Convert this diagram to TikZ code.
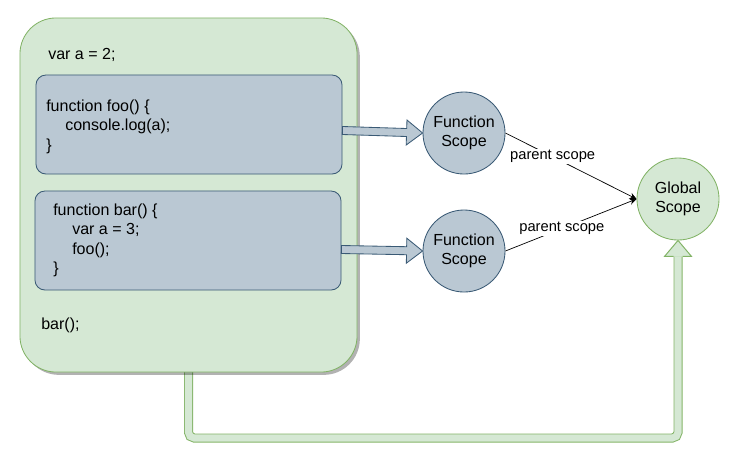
\documentclass[tikz,border=0pt]{standalone}
\usepackage{fontspec}
\setmainfont{Liberation Sans}
\usetikzlibrary{arrows.meta,calc,shadows}

\definecolor{gfill}{HTML}{D5E8D4}
\definecolor{gline}{HTML}{82B366}
\definecolor{bfill}{HTML}{BAC8D3}
\definecolor{bline}{HTML}{3A5A75}

% block arrow from #2 to #3
\newcommand{\fatarrow}[3]{%
  \coordinate (hb) at ($(#3)!0.4cm!(#2)$);
  \filldraw[#1] ($(#2)!0.1cm!90:(#3)$) -- ($(hb)!0.1cm!90:(#3)$)
    -- ($(hb)!0.3125cm!90:(#3)$) -- (#3) -- ($(hb)!0.3125cm!-90:(#3)$)
    -- ($(hb)!0.1cm!-90:(#3)$) -- ($(#2)!0.1cm!-90:(#3)$) -- cycle;
}

\begin{document}
\begin{tikzpicture}[x=0.025cm,y=-0.025cm,
    codetxt/.style={font=\fontsize{11.4}{13.9}\selectfont, align=left, inner sep=0, anchor=west},
    codebox/.style={draw=bline, fill=bfill, line width=0.6pt, rounded corners=0.25cm,
      minimum width=7.65cm, minimum height=2.475cm, inner sep=0},
    scope/.style={circle, line width=0.6pt, minimum size=2.05cm, inner sep=0, align=center,
      font=\fontsize{11.4}{13.9}\selectfont},
    lbl/.style={fill=white, inner sep=1pt, font=\fontsize{10.45}{12.5}\selectfont}]
  \useasboundingbox (0,0) rectangle (741,463);

  \node[scope, draw=gline, fill=gfill] (gs) at (678,199) {Global\\Scope};
  \coordinate (gh) at ($(gs.south)+(0,16)$);
  \draw[gline, line width=0.7pt, double=gfill, double distance=5pt, rounded corners=4pt]
    (188.5,370) -- (188.5,438) -| (gh);
  \filldraw[fill=gfill, draw=gline, line width=0.7pt] ($(gh)+(-4.5,0)$) -- ($(gh)+(-13.5,0)$)
    -- (gs.south) -- ($(gh)+(13.5,0)$) -- ($(gh)+(4.5,0)$);

  \node[draw=gline, fill=gfill, line width=0.6pt, rounded corners=0.9cm, minimum width=8.425cm,
    minimum height=8.85cm, inner sep=0,
    drop shadow={shadow xshift=0.07cm, shadow yshift=-0.07cm, opacity=0.3, fill=black}]
    (outer) at (188.5,195) {};

  \node[codebox] (foo) at (189,124.5) {};
  \node[codebox] (bar) at (188,240.5) {};

  \node[codetxt] (varA) at (48,55) {var a = 2;};
  \node[codetxt] (fooCode) at (46,126.5) {function foo() \{\\\hspace{0.475cm}console.log(a);\\\}};
  \node[codetxt] (barCode) at (53,240.5) {function bar() \{\\\hspace{0.475cm}var a = 3;\\\hspace{0.475cm}foo();\\\}};
  \node[codetxt] (barCall) at (41,325) {bar();};

  \node[scope, draw=bline, fill=bfill] (fs1) at (464,133) {Function\\Scope};
  \node[scope, draw=bline, fill=bfill] (fs2) at (464,251) {Function\\Scope};

  \coordinate (fooOut) at ($(foo.east)+(0,6)$);
  \coordinate (barOut) at ($(bar.east)+(0,9)$);
  \fatarrow{fill=bfill, draw=bline, line width=0.6pt}{fooOut}{fs1.west}
  \fatarrow{fill=bfill, draw=bline, line width=0.6pt}{barOut}{fs2.west}

  \draw[-{Stealth[length=5pt,width=4.5pt]}, line width=0.5pt] (fs1.east)
    -- node[lbl, pos=0.36] (p1) {parent scope} (gs.west);
  \draw[-{Stealth[length=5pt,width=4.5pt]}, line width=0.5pt] (fs2.east)
    -- node[lbl, pos=0.43] (p2) {parent scope} (gs.west);
\end{tikzpicture}
\end{document}
